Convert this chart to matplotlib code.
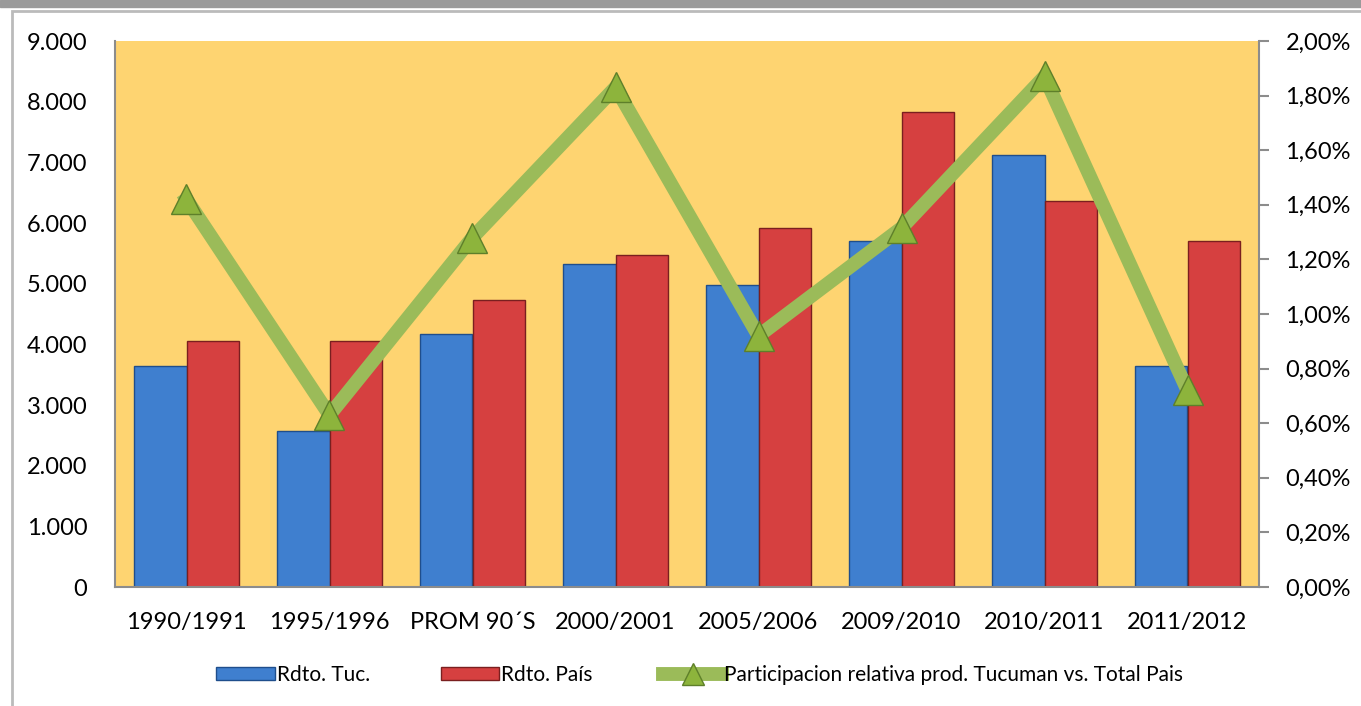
import matplotlib.pyplot as plt
from matplotlib.patches import Rectangle
from matplotlib.ticker import FuncFormatter

plt.rcParams['font.family'] = ['Lato', 'DejaVu Sans']

# Data
campanias = ["1990/1991", "1995/1996", "PROM 90´S", "2000/2001",
             "2005/2006", "2009/2010", "2010/2011", "2011/2012"]
rdto_tuc = [3640, 2570, 4170, 5320, 4980, 5700, 7120, 3640]
rdto_pais = [4050, 4050, 4730, 5470, 5920, 7830, 6360, 5700]
participacion = [1.42, 0.63, 1.28, 1.83, 0.92, 1.315, 1.87, 0.72]  # %

azul = "#3F7FCF"
rojo = "#D64040"
verde = "#9BBB59"
fondo = "#FED471"

fig = plt.figure(figsize=(13.61, 7.06), dpi=100)
# top band and chart frame
fig.patches.append(Rectangle((0, 0.99), 1, 0.01, transform=fig.transFigure,
                             color="#9A9A9A", zorder=0))
fig.patches.append(Rectangle((0.0085, -0.01), 1.0, 0.995, transform=fig.transFigure,
                             fill=False, edgecolor="#BBBBBB", lw=2, zorder=0))

ax = fig.add_axes([115 / 1361, 1 - 587 / 706, 1144 / 1361, 546 / 706])
ax.set_facecolor(fondo)

x = list(range(len(campanias)))
w = 0.365
ax.bar([i - w / 2 for i in x], rdto_tuc, width=w, color=azul,
       edgecolor="#1F4E8C", lw=1, label="Rdto. Tuc.", zorder=2)
ax.bar([i + w / 2 for i in x], rdto_pais, width=w, color=rojo,
       edgecolor="#7A1F1F", lw=1, label="Rdto. País", zorder=2)

ax.set_xlim(-0.5, len(campanias) - 0.5)
ax.set_ylim(0, 9000)
ax.set_yticks(range(0, 9001, 1000))
ax.yaxis.set_major_formatter(FuncFormatter(lambda v, p: f"{int(v):,}".replace(",", ".")))
ax.set_xticks(x)
ax.set_xticklabels(campanias)
ax.tick_params(axis="y", length=0, left=False, labelsize=17, pad=20)
ax.tick_params(axis="x", length=0, labelsize=17, pad=18)
for s in ["top", "right"]:
    ax.spines[s].set_visible(False)
ax.spines["left"].set_color("#8C8C8C")
ax.spines["bottom"].set_color("#8C8C8C")
ax.spines["left"].set_linewidth(1.5)
ax.spines["bottom"].set_linewidth(1.5)

ax2 = ax.twinx()
ax2.plot(x, participacion, color=verde, lw=10, marker="^", markersize=22,
         markerfacecolor="#8DB43C", markeredgecolor="#5E7F2A", markeredgewidth=1,
         solid_joinstyle="miter", label="Participacion relativa prod. Tucuman vs. Total Pais",
         zorder=3)
ax2.set_ylim(0, 2.0)
ax2.set_yticks([i * 0.2 for i in range(11)])
ax2.yaxis.set_major_formatter(FuncFormatter(lambda v, p: f"{v:.2f}%".replace(".", ",")))
ax2.tick_params(axis="y", length=7, width=1.5, color="#8C8C8C", labelsize=17, pad=12)
for s in ["top", "left", "bottom"]:
    ax2.spines[s].set_visible(False)
ax2.spines["right"].set_color("#8C8C8C")
ax2.spines["right"].set_linewidth(1.5)

h1, l1 = ax.get_legend_handles_labels()
h2, l2 = ax2.get_legend_handles_labels()
fig.legend(h1 + h2, l1 + l2, loc="center", bbox_to_anchor=(0.514, 1 - 675 / 706),
           ncol=3, frameon=False, fontsize=15, handlelength=2.8, handleheight=0.55,
           handletextpad=0.1, columnspacing=3.4, markerscale=0.75)

fig.savefig("out.png", dpi=100)
